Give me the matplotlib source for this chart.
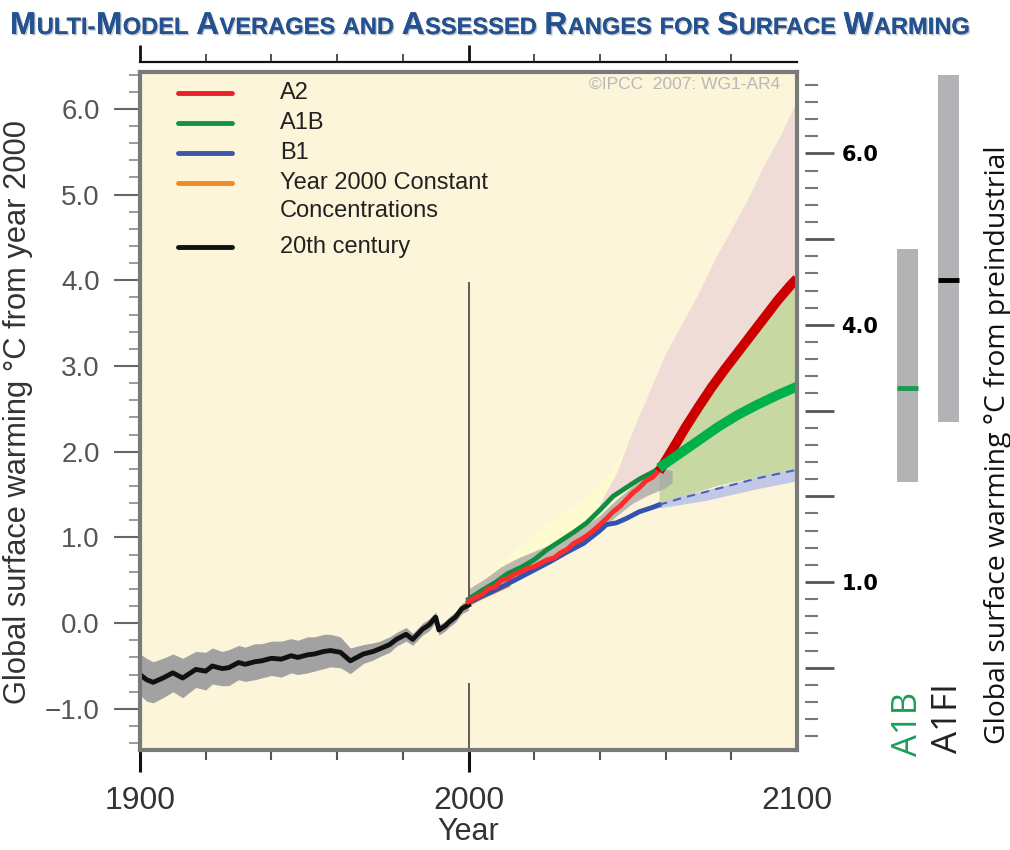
import matplotlib
matplotlib.use('Agg')
import matplotlib.pyplot as plt
import matplotlib.patheffects as pe
import matplotlib.font_manager as fm
from matplotlib.ticker import MultipleLocator, FixedLocator

# %% data
hist_years = [1900, 1902, 1904, 1907, 1910, 1913, 1917, 1920, 1922, 1925, 1927, 1930, 1932,
              1935, 1937, 1940, 1943, 1946, 1948, 1951, 1953, 1956, 1958, 1961, 1964, 1966,
              1968, 1971, 1973, 1976, 1978, 1981, 1983, 1986, 1988, 1990, 1991, 1993, 1994,
              1996, 1998, 2000]
hist_mean = [-0.60, -0.66, -0.69, -0.64, -0.58, -0.64, -0.54, -0.56, -0.50, -0.53, -0.52, -0.46,
             -0.48, -0.45, -0.44, -0.41, -0.42, -0.38, -0.40, -0.37, -0.36, -0.33, -0.32, -0.34,
             -0.44, -0.40, -0.36, -0.33, -0.30, -0.25, -0.19, -0.13, -0.19, -0.07, -0.02, 0.07,
             -0.08, -0.03, 0.01, 0.07, 0.17, 0.21]
hist_spread = [0.24, 0.25, 0.24, 0.23, 0.22, 0.23, 0.21, 0.22, 0.21, 0.20, 0.21, 0.20, 0.20,
               0.21, 0.20, 0.20, 0.21, 0.20, 0.20, 0.21, 0.20, 0.20, 0.19, 0.18, 0.15, 0.13,
               0.11, 0.10, 0.09, 0.09, 0.08, 0.08, 0.07, 0.07, 0.07, 0.06, 0.06, 0.06, 0.06,
               0.06, 0.06, 0.06]

a2_years = [2000, 2002, 2004, 2006, 2008, 2010, 2012, 2014, 2016, 2018, 2020, 2022, 2024, 2026,
            2028, 2030, 2032, 2034, 2036, 2038, 2040, 2042, 2044, 2046, 2048, 2050, 2052, 2054,
            2056, 2058]
a2_vals = [0.25, 0.30, 0.33, 0.40, 0.42, 0.50, 0.52, 0.57, 0.60, 0.64, 0.66, 0.70, 0.74, 0.76,
           0.82, 0.86, 0.93, 0.97, 1.02, 1.08, 1.15, 1.22, 1.30, 1.36, 1.44, 1.52, 1.58, 1.66,
           1.70, 1.78]
a2_late_years = [2058, 2062, 2066, 2070, 2074, 2078, 2082, 2086, 2090, 2094, 2098, 2100]
a2_late_vals = [1.77, 2.02, 2.28, 2.52, 2.75, 2.96, 3.16, 3.36, 3.56, 3.76, 3.94, 4.02]

a1b_years = [2000, 2004, 2008, 2012, 2016, 2020, 2024, 2028, 2032, 2036, 2040, 2044, 2048, 2052,
             2056, 2058]
a1b_vals = [0.28, 0.38, 0.47, 0.58, 0.65, 0.74, 0.86, 0.96, 1.06, 1.17, 1.32, 1.48, 1.58, 1.68,
            1.76, 1.81]
a1b_late_years = [2058, 2064, 2070, 2076, 2082, 2088, 2094, 2100]
a1b_late_vals = [1.81, 1.97, 2.13, 2.29, 2.43, 2.55, 2.66, 2.76]

b1_years = [2000, 2005, 2010, 2015, 2020, 2025, 2030, 2035, 2040, 2042, 2045, 2048, 2052, 2056,
            2058]
b1_vals = [0.24, 0.33, 0.42, 0.52, 0.62, 0.72, 0.83, 0.93, 1.08, 1.15, 1.17, 1.22, 1.30, 1.35,
           1.38]
b1_late_years = [2058, 2065, 2072, 2080, 2088, 2094, 2100]
b1_late_vals = [1.38, 1.46, 1.53, 1.61, 1.69, 1.74, 1.79]

const_years = [2000, 2004, 2008, 2012]
const_vals = [0.22, 0.30, 0.37, 0.44]

ens_years = [2000, 2005, 2010, 2015, 2020, 2025, 2030, 2035, 2040, 2045, 2050, 2055, 2060, 2062]
ens_lo = [0.22, 0.32, 0.45, 0.55, 0.62, 0.72, 0.84, 0.95, 1.08, 1.25, 1.40, 1.50, 1.58, 1.64]
ens_hi = [0.40, 0.52, 0.66, 0.76, 0.84, 0.92, 1.02, 1.12, 1.26, 1.44, 1.60, 1.74, 1.80, 1.78]

pale_years = [2005, 2020, 2035, 2042, 2050, 2058]
pale_lo = [0.50, 0.80, 1.10, 1.45, 1.65, 1.80]
pale_hi = [0.55, 1.05, 1.45, 1.70, 2.20, 2.90]

a2_range_years = [2040, 2045, 2050, 2055, 2060, 2065, 2070, 2075, 2080, 2085, 2090, 2095, 2100]
a2_range_lo = [1.30, 1.52, 1.66, 1.78, 1.92, 2.21, 2.47, 2.74, 2.98, 3.26, 3.56, 3.81, 4.02]
a2_range_hi = [1.40, 1.75, 2.25, 2.70, 3.15, 3.50, 3.85, 4.25, 4.60, 4.95, 5.35, 5.70, 6.10]

a1b_range_years = [2058, 2064, 2070, 2076, 2082, 2088, 2094, 2100]
a1b_range_lo = [1.38, 1.47, 1.54, 1.61, 1.66, 1.71, 1.75, 1.79]
a1b_range_hi = [1.78, 2.12, 2.48, 2.83, 3.12, 3.42, 3.72, 3.96]

b1_range_years = [2055, 2064, 2072, 2080, 2088, 2100]
b1_range_lo = [1.33, 1.38, 1.43, 1.50, 1.57, 1.66]
b1_range_hi = [1.36, 1.48, 1.55, 1.63, 1.71, 1.81]

bar_names = ['A1B', 'A1FI']
bar_lo = [1.65, 2.35]
bar_hi = [4.37, 6.40]
bar_best = [2.74, 4.00]

left_ticks = [-1, 0, 1, 2, 3, 4, 5, 6]
right_ticks = [0, 1, 2, 3, 4, 5, 6]
right_labels = ['', '1.0', '', '', '4.0', '', '6.0']
right_offset = 0.52
year_ticks = [1900, 2000, 2100]

legend_labels = ['A2', 'A1B', 'B1', 'Year 2000 Constant\nConcentrations', '20th century']
legend_colors = ['#e8202a', '#129444', '#3b55a8', '#f08a24', '#111111']

title = 'Multi-Model Averages and Assessed Ranges for Surface Warming'

# %% fonts
names = {f.name for f in fm.fontManager.ttflist}
narrow = 'Liberation Sans Narrow' if 'Liberation Sans Narrow' in names else 'Liberation Sans'
sans = 'Liberation Sans'
calib = 'Open Sans'

W, H = 1010, 850
fig = plt.figure(figsize=(W / 100, H / 100), dpi=100)
renderer = fig.canvas.get_renderer()


def fx(px):
    return px / W


def fy(py):
    return 1 - py / H


def fit(t, target_px, vertical=True):
    ext = t.get_window_extent(renderer)
    cur = ext.height if vertical else ext.width
    t.set_fontsize(t.get_fontsize() * target_px / cur)


ylo, yhi = -1.48, 6.43

ax = fig.add_axes([fx(140), fy(750), 657 / W, 678 / H])
ax.set_facecolor('#fdf5d9')
ax.set_xlim(1900, 2100)
ax.set_ylim(ylo, yhi)
for s in ax.spines.values():
    s.set_color('#7a7a7a')
    s.set_linewidth(3)
    s.set_zorder(10)

# shaded ranges
ax.fill_between(pale_years, pale_lo, pale_hi, color='#fefbd0', lw=0, zorder=1)
ax.fill_between(a2_range_years, a2_range_lo, a2_range_hi, color='#f0dcd6', lw=0, zorder=1)
ax.fill_between(a1b_range_years, a1b_range_lo, a1b_range_hi, color='#c8d8a2', lw=0, zorder=2)
ax.fill_between(b1_range_years, b1_range_lo, b1_range_hi, color='#c3c8e6', lw=0, zorder=2)
ax.fill_between(ens_years, ens_lo, ens_hi, color='#a4a4a4', alpha=0.75, lw=0, zorder=3)

# 20th century
h_lo = [m - s for m, s in zip(hist_mean, hist_spread)]
h_hi = [m + s for m, s in zip(hist_mean, hist_spread)]
ax.fill_between(hist_years, h_lo, h_hi, color='#a2a2a2', lw=0, zorder=3)
ax.plot(hist_years, hist_mean, color='#111111', lw=3.5, zorder=6, solid_joinstyle='round')

# year 2000 line
ax.vlines(2000, 0.28, 3.98, color='#444444', lw=1.2, zorder=5)
ax.vlines(2000, ylo, -0.70, color='#444444', lw=1.2, zorder=5)

# projections
ax.plot(const_years, const_vals, color='#f08a24', lw=3, zorder=4)
ax.plot(b1_years, b1_vals, color='#3352b0', lw=3.5, zorder=5)
ax.plot(b1_late_years, b1_late_vals, color='#4a62c0', lw=1.5, ls=(0, (4, 3)), zorder=5)
ax.plot(a1b_years, a1b_vals, color='#148c40', lw=3.5, zorder=6)
ax.plot(a2_years, a2_vals, color='#ff2a2a', lw=3.5, zorder=7)
ax.plot(a2_late_years, a2_late_vals, color='#cc0000', lw=7, zorder=7, solid_capstyle='butt')
ax.plot(a1b_late_years, a1b_late_vals, color='#00b04a', lw=7, zorder=8, solid_capstyle='butt')

# axes ticks
ax.set_yticks(left_ticks)
ax.set_yticklabels([f'{v:.1f}'.replace('-', '\u2212') for v in left_ticks])
ax.yaxis.set_minor_locator(MultipleLocator(0.2))
ax.tick_params(axis='y', which='major', direction='out', length=19, width=1.5,
               color='#666666', pad=10, labelsize=20, labelcolor='#555555')
ax.tick_params(axis='y', which='minor', direction='out', length=8, width=1.2, color='#888888')
for lab in ax.get_yticklabels():
    lab.set_family(sans)

ax.set_xticks(year_ticks)
ax.set_xticklabels([str(y) for y in year_ticks])
ax.xaxis.set_minor_locator(FixedLocator(range(1920, 2100, 20)))
ax.tick_params(axis='x', which='major', direction='out', length=16, width=2.2,
               color='#111111', pad=10, labelsize=23, labelcolor='#333333')
ax.tick_params(axis='x', which='minor', direction='out', length=7, width=1.5, color='#555555')
ax.xaxis.get_major_ticks()[2].tick1line.set_visible(False)
for lab in ax.get_xticklabels():
    lab.set_family(narrow)
ax.set_xlabel('Year', fontsize=22, family=narrow, color='#333333', labelpad=1)

# top axis line above the frame
sec = ax.secondary_xaxis('top')
sec.spines['top'].set_position(('outward', 7))
sec.spines['top'].set_color('#111111')
sec.spines['top'].set_linewidth(1.6)
sec.xaxis.set_major_locator(FixedLocator([1900, 2000]))
sec.xaxis.set_minor_locator(FixedLocator(range(1920, 2100, 20)))
sec.tick_params(which='major', length=12, width=2, color='#111111', labeltop=False)
sec.tick_params(which='minor', length=6, width=1.2, color='#333333')

# right axis: warming from preindustrial
ax2 = ax.twinx()
ax2.set_ylim(ylo + right_offset, yhi + right_offset)
for s in ax2.spines.values():
    s.set_visible(False)
ax2.spines['right'].set_position(('outward', 6))
ax2.set_yticks(right_ticks)
ax2.set_yticklabels(right_labels)
ax2.yaxis.set_minor_locator(MultipleLocator(0.2))
ax2.tick_params(axis='y', which='major', direction='out', length=21, width=2,
               color='#555555', pad=5, labelsize=15)
ax2.tick_params(axis='y', which='minor', direction='out', length=9, width=1.5, color='#777777')
for lab in ax2.get_yticklabels():
    lab.set_family('DejaVu Sans')
    lab.set_fontweight('bold')

# legend drawn by hand
row_y = 0.969
for lab, col in zip(legend_labels, legend_colors):
    ax.plot([0.058, 0.14], [row_y, row_y], transform=ax.transAxes, color=col, lw=3.5,
            solid_capstyle='round', zorder=12)
    for j, line in enumerate(lab.split('\n')):
        ax.text(0.213, row_y - j * 0.0415, line, transform=ax.transAxes, fontsize=17,
                family=sans, color='#222222', va='center', ha='left', zorder=12)
    row_y -= 0.0443 * len(lab.split('\n')) + (0.006 if '\n' in lab else 0)

ax.text(0.974, 0.982, '\u00a9IPCC  2007: WG1-AR4', transform=ax.transAxes, fontsize=12.5,
        family=narrow, color='#b8b8b8', ha='right', va='center', zorder=12)

# assessed ranges for 2090-2099
axb = fig.add_axes([fx(887), fy(750), 82 / W, 678 / H])
axb.set_ylim(ylo, yhi)
axb.set_xlim(-0.5, 1.5)
axb.axis('off')
xs = list(range(len(bar_names)))
axb.bar(xs, [h - l for h, l in zip(bar_hi, bar_lo)], bottom=bar_lo, width=0.53,
        color='#b3b3b5', lw=0)
axb.hlines(bar_best, [x - 0.265 for x in xs], [x + 0.265 for x in xs],
           colors=['#1a9a50', '#000000'], lw=3.5)
t = fig.text(fx(908), fy(756), 'A1B', rotation=90, ha='center', va='bottom', fontsize=21,
             family=calib, color='#1a9e55')
fit(t, 64)
t = fig.text(fx(948), fy(753), 'A1FI', rotation=90, ha='center', va='bottom', fontsize=21,
             family=calib, color='#222222')
fit(t, 70)

# axis titles
t = fig.text(fx(18), fy(412), 'Global surface warming \u00b0C from year 2000', rotation=90,
             ha='center', va='center', fontsize=19, family=sans, color='#333333')
fit(t, 585)
t = fig.text(fx(998), fy(445), 'Global surface warming \u00b0C from preindustrial', rotation=90,
             ha='center', va='center', fontsize=19, family=calib, color='#111111')
fit(t, 600)


# small-caps title, fitted to its width in the reference
def draw_title(scale):
    big, small = 22 * scale, 16.5 * scale
    runs = []
    for ch in title:
        if ch == ' ':
            runs.append(('', None))
            continue
        size = big if ch.isupper() else small
        if runs and runs[-1][1] == size:
            runs[-1] = (runs[-1][0] + ch.upper(), size)
        else:
            runs.append((ch.upper(), size))
    x = 10
    made = []
    for txt, size in runs:
        if size is None:
            x += 0.32 * big
            continue
        tt = fig.text(fx(x), fy(34), txt, fontsize=size, family=narrow, fontweight='bold',
                      color='#245290', va='baseline', ha='left',
                      path_effects=[pe.withSimplePatchShadow(offset=(1, -1), alpha=0.25),
                                    pe.Normal()])
        x += tt.get_window_extent(renderer).width + 0.5
        made.append(tt)
    return made, x - 10


made, width = draw_title(1.0)
for tt in made:
    tt.remove()
draw_title(958 / width)

fig.savefig('out.png', dpi=100)
